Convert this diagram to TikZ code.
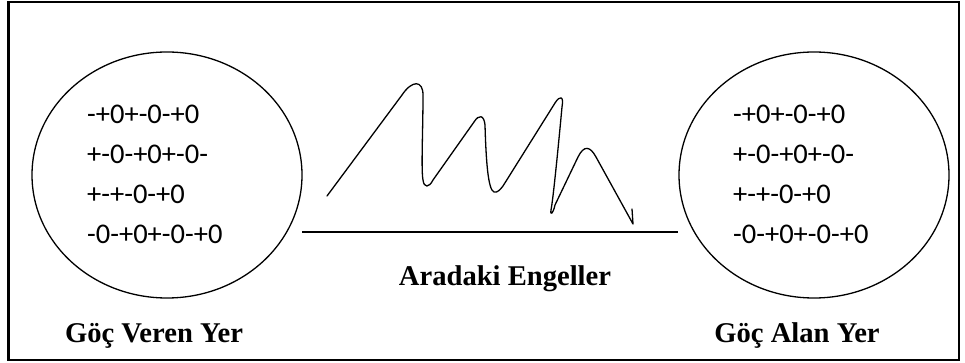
\documentclass[tikz,border=0pt]{standalone}
\usepackage{fontspec}
\setmainfont{Liberation Serif}
\newfontfamily\numfont{Carlito}
\usetikzlibrary{shapes.geometric}
\begin{document}
\begin{tikzpicture}[x=1pt,y=-1pt,
  region/.style={draw,ellipse,line width=1.3pt,minimum width=270pt,minimum height=246pt,inner sep=0pt},
  seq/.style={anchor=base west,inner sep=0pt,font=\numfont\fontsize{28.5}{28.5}\selectfont},
  label/.style={anchor=base,inner sep=0pt,font=\bfseries\fontsize{28.6}{28.6}\selectfont},
  wave/.style={line width=1.3pt,line join=round,line cap=round}]
\useasboundingbox (0,0) rectangle (965,363);
\draw[line width=2.5pt] (8.5,2) rectangle (959,360);
\node[region] (left) at (167,175) {};
\node[region] (right) at (814,175) {};
\foreach \t [count=\i] in {-+0+-0-+0,+-0-+0+-0-,+-+-0-+0,-0-+0+-0-+0}{
  \node[seq] (l\i) at (87,{83.5+40*\i}) {\t};
  \node[seq] (r\i) at (733,{83.5+40*\i}) {\t};
}
\coordinate (g1) at (302,232);
\coordinate (g2) at (678,232);
\draw[line width=2pt] (g1) -- (g2);
\draw[wave] (327,196) -- (402,95) .. controls (412,80) and (423,80) .. (423,95)
  .. controls (423,130) and (421,170) .. (423,180) .. controls (424,188) and (429,188) .. (433,180)
  -- (474,122) .. controls (479,114) and (484,115) .. (485,125)
  .. controls (486,160) and (488,190) .. (494,192) .. controls (497,193) and (500,190) .. (503,186)
  -- (555,103) .. controls (560,95) and (564,96) .. (562,107)
  .. controls (558,150) and (553,200) .. (551,210) .. controls (550,216) and (553,214) .. (555,205)
  -- (578,157) .. controls (584,145) and (590,146) .. (596,157)
  -- (633,224) -- (632,209);
\node[label] (obst) at (505,285) {Aradaki Engeller};
\node[label] (src) at (154,342) {Göç Veren Yer};
\node[label] (dst) at (797,342) {Göç Alan Yer};
\end{tikzpicture}
\end{document}
